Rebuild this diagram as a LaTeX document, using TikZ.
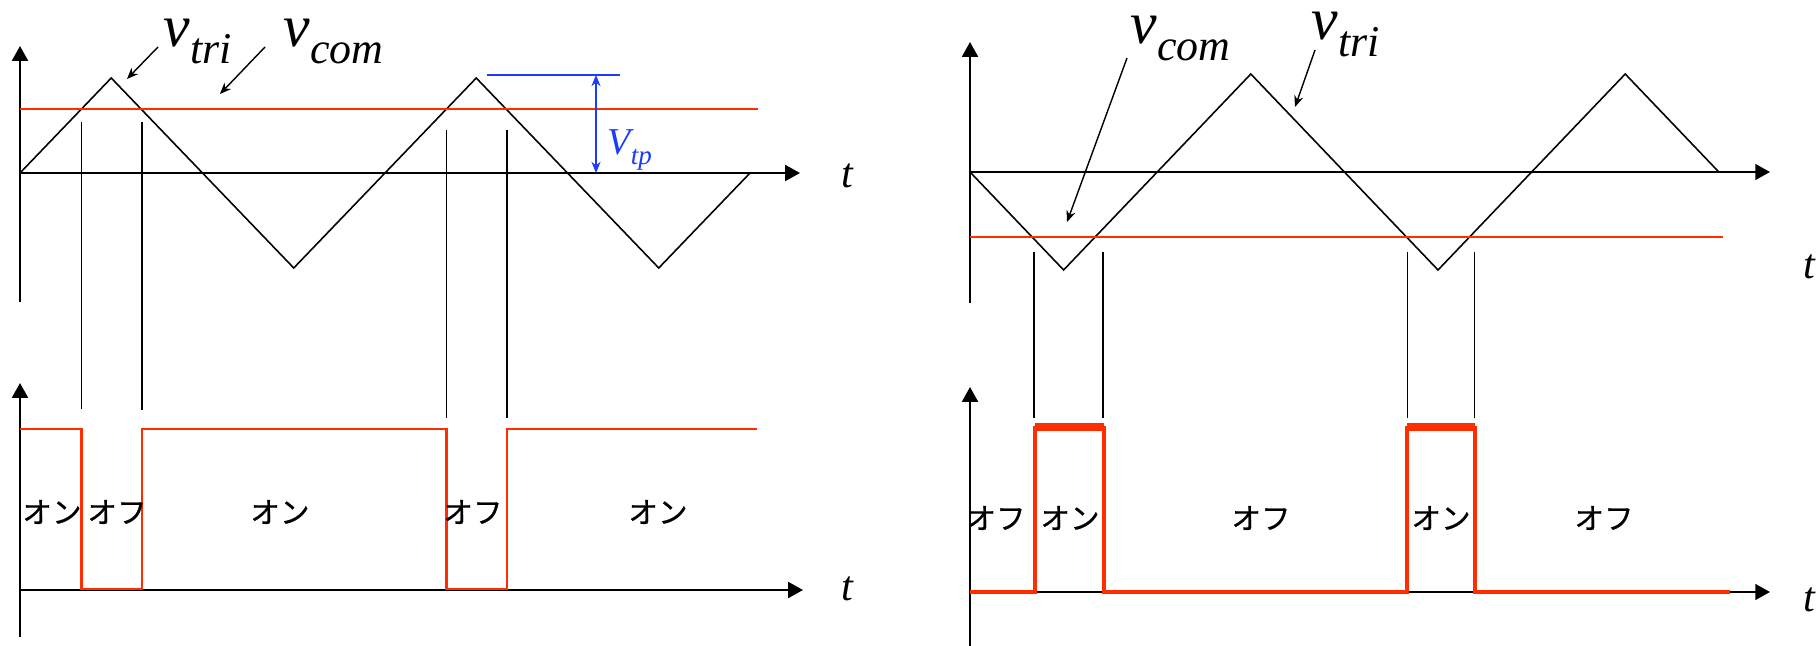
\documentclass[tikz,border=0pt]{standalone}
\usepackage{fontspec}
\setmainfont{Liberation Serif}
\newfontfamily\jpfont[FakeBold=0.7]{Noto Sans CJK JP}
\usetikzlibrary{arrows.meta}
\definecolor{PwmRed}{HTML}{FF2D00}
\definecolor{PwmBlue}{HTML}{1A3CFF}
\newcommand\signame[2]{{\fontsize{17}{17}\selectfont\itshape #1}\raisebox{-4.6pt}{\fontsize{12.5}{12.5}\selectfont\itshape #2}}

\begin{document}
\begin{tikzpicture}[x=0.01cm, y=-0.01cm,
  axis/.style={line width=0.6pt, -{Triangle[length=4.2pt,width=4.5pt]}},
  carrier/.style={line width=0.45pt, line join=miter},
  command/.style={draw=PwmRed, line width=0.6pt},
  guide/.style={line width=0.3pt},
  gate/.style={draw=PwmRed, line width=0.6pt},
  gatebold/.style={draw=PwmRed, line width=1.3pt},
  pointer/.style={line width=0.4pt, -{Stealth[length=3.2pt,width=2.6pt]}},
  mode/.style={inner sep=0pt, font=\jpfont\fontsize{8.4}{8.4}\selectfont},
  tlab/.style={inner sep=0pt, font=\fontsize{12}{12}\selectfont\itshape},
  sig/.style={anchor=base west, inner sep=0pt}]
  \useasboundingbox (0,0) rectangle (1819,646);

  % left: comparison
  \draw[axis] (20,302) -- (20,46);
  \draw[axis] (20,173) -- (800,173);
  \node[tlab] (tla) at (847,176) {t};
  \draw[carrier] (20,173) -- (111.25,78) -- (293.75,268) -- (476.25,78) -- (658.75,268) -- (750,173);
  \draw[command] (20,109) -- (758,109);
  \node[sig] (lvtri) at (163,47) {\signame{v}{tri}};
  \node[sig] (lvcom) at (283,47) {\signame{v}{com}};
  \coordinate (lvtris) at (158,47);
  \coordinate (lvtrie) at (127,79);
  \coordinate (lvcoms) at (265,47);
  \coordinate (lvcome) at (220,94);
  \draw[pointer] (lvtris) -- (lvtrie);
  \draw[pointer] (lvcoms) -- (lvcome);
  \coordinate (pk) at (487,75);
  \coordinate (pkend) at (620,75);
  \draw[PwmBlue, line width=0.4pt] (pk) -- (pkend);
  \coordinate (vtpa) at (596,75);
  \coordinate (vtpb) at (596,173);
  \draw[PwmBlue, line width=0.4pt, {Stealth[length=3.2pt,width=2.6pt]}-{Stealth[length=3.2pt,width=2.6pt]}] (vtpa) -- (vtpb);
  \node[sig, text=PwmBlue] (vtp) at (607,155) {{\fontsize{10.8}{10.8}\selectfont\itshape V}\raisebox{-2.8pt}{\fontsize{7.7}{7.7}\selectfont\itshape tp}};

  \foreach \gx/\gt/\gb in {81.5/122/409, 142/122/410, 446.5/130/418, 507/130/418}
    \draw[guide] (\gx,\gt) -- (\gx,\gb);

  % left: gate signal
  \draw[axis] (20,637) -- (20,383);
  \draw[axis] (20,590) -- (803,590);
  \node[tlab] (tlb) at (847,589) {t};
  \draw[gate] (20,429) -- (81.5,429) -- (81.5,589) -- (142,589) -- (142,429) -- (446.5,429)
    -- (446.5,589) -- (507,589) -- (507,429) -- (757,429);
  \node[mode] (lon1) at (52,512) {オン};
  \node[mode] (loff1) at (117,512) {オフ};
  \node[mode] (lon2) at (280,512) {オン};
  \node[mode] (loff2) at (473,512) {オフ};
  \node[mode] (lon3) at (658,512) {オン};

  % right: comparison
  \draw[axis] (970,303) -- (970,42);
  \draw[axis] (970,172) -- (1770,172);
  \node[tlab] (tra) at (1809,267) {t};
  \draw[carrier] (970,172) -- (1063.6,270) -- (1250.8,74) -- (1438,270) -- (1625.2,74) -- (1718.8,172);
  \draw[command] (970,237) -- (1723,237);
  \node[sig] (rvcom) at (1130,44) {\signame{v}{com}};
  \node[sig] (rvtri) at (1311,40) {\signame{v}{tri}};
  \coordinate (rvcoms) at (1127,58);
  \coordinate (rvcome) at (1067,222);
  \coordinate (rvtris) at (1315,50);
  \coordinate (rvtrie) at (1295,107);
  \draw[pointer] (rvcoms) -- (rvcome);
  \draw[pointer] (rvtris) -- (rvtrie);

  \foreach \gx in {1034, 1103, 1407, 1474}
    \draw[guide] (\gx,252) -- (\gx,418);

  % right: gate signal
  \draw[axis] (970,646) -- (970,387);
  \draw[axis] (970,592) -- (1770,592);
  \node[tlab] (trb) at (1809,600) {t};
  \draw[gatebold] (970,592) -- (1035,592) -- (1035,428) -- (1104,428) -- (1104,592) -- (1407,592)
    -- (1407,428) -- (1475,428) -- (1475,592) -- (1730,592);
  \draw[draw=PwmRed, line width=2pt] (1035,427) -- (1104,427);
  \draw[draw=PwmRed, line width=2pt] (1407,427) -- (1475,427);
  \node[mode] (roff1) at (996,518) {オフ};
  \node[mode] (ron1) at (1070,518) {オン};
  \node[mode] (roff2) at (1261,518) {オフ};
  \node[mode] (ron2) at (1441,518) {オン};
  \node[mode] (roff3) at (1604,518) {オフ};
\end{tikzpicture}
\end{document}
